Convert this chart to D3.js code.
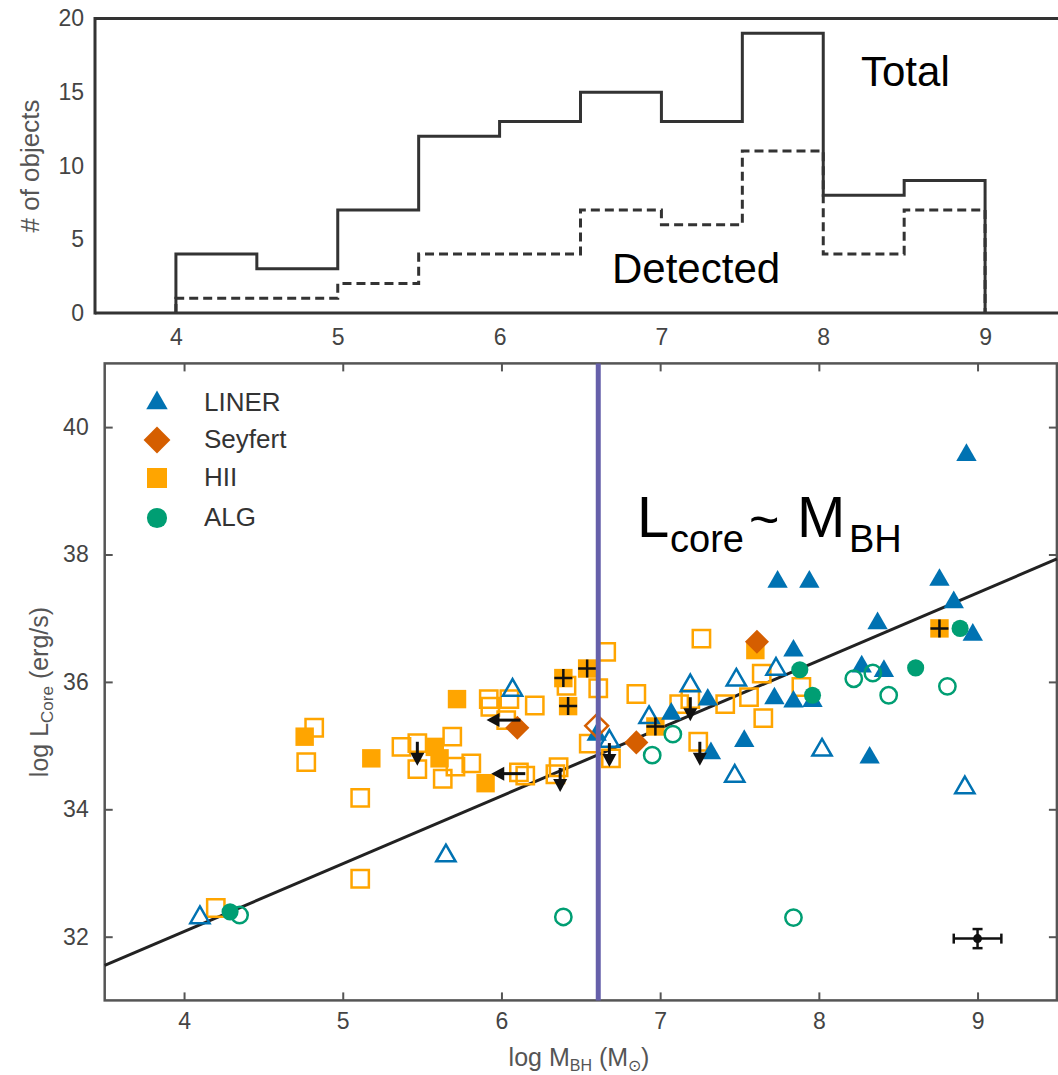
<!DOCTYPE html>
<html><head><meta charset="utf-8">
<script src="https://cdn.jsdelivr.net/npm/d3@7"></script>
<style>body{margin:0;background:#fff}svg{display:block}text{font-family:"Liberation Sans",Arial,sans-serif}</style>
</head><body><svg id="c" width="1058" height="1075"></svg>
<script>
// ---------- data ----------
const histEdges = [4,4.5,5,5.5,6,6.5,7,7.5,8,8.5,9];
const histTotal = [4,3,7,12,13,15,13,19,8,9];
const histDetected = [1,1,2,4,4,7,6,11,4,7];
const histYTicks = [0,5,10,15,20];
const massTicks = [4,5,6,7,8,9];
const lumTicks = [32,34,36,38,40];

const linerFilled = [[8.93,39.56],[7.74,37.57],[7.94,37.57],[8.76,37.60],[8.85,37.25],[8.37,36.92],[8.97,36.74],[8.27,36.24],[8.41,36.17],[7.84,36.49],[7.72,35.74],[7.84,35.69],[7.96,35.70],[7.30,35.72],[7.07,35.50],[7.32,34.88],[7.53,35.07],[8.32,34.81],[6.60,35.17]];
const linerOpen = [[6.07,35.87],[6.68,35.07],[6.93,35.44],[7.19,35.94],[7.48,36.03],[7.73,36.20],[7.47,34.52],[8.02,34.93],[8.92,34.34],[5.65,33.27],[4.10,32.30]];
const seyfertFilled = [[6.10,35.28],[6.85,35.05],[7.61,36.63]];
const seyfertOpen = [[6.60,35.31]];
const hiiFilled = [[4.76,35.14],[5.18,34.80],[5.72,35.73],[5.58,34.98],[5.61,34.80],[5.90,34.41],[7.60,36.50]];
const hiiCross = [[6.39,36.06],[6.54,36.21],[6.42,35.62],[6.97,35.30],[8.76,36.84]];
const hiiOpen = [[4.82,35.28],[4.77,34.74],[5.11,34.18],[5.11,32.91],[5.37,34.98],[5.47,35.04],[5.47,34.63],[5.69,35.14],[5.63,34.48],[5.71,34.67],[5.81,34.72],[5.92,35.73],[5.93,35.61],[6.05,35.73],[6.21,35.63],[6.03,35.40],[6.11,34.58],[6.15,34.53],[6.36,34.66],[6.34,34.55],[6.41,35.94],[6.66,36.47],[6.61,35.90],[6.85,35.81],[6.55,35.03],[6.69,34.80],[7.26,36.68],[7.64,36.13],[7.89,35.92],[7.56,35.76],[7.65,35.43],[7.41,35.65],[7.12,35.65],[7.19,35.73],[7.24,35.06],[4.20,32.45]];
const algFilled = [[4.29,32.39],[7.88,36.19],[7.96,35.79],[8.89,36.84],[8.61,36.22]];
const algOpen = [[4.35,32.34],[6.39,32.31],[7.84,32.30],[7.08,35.18],[6.95,34.85],[8.22,36.05],[8.34,36.14],[8.44,35.79],[8.81,35.93]];
const limitsDown = [[5.47,35.06],[6.37,34.65],[6.68,35.04],[7.19,35.76],[7.25,35.06]];
const limitsLeft = [[6.12,35.40],[6.15,34.56]];
const fitM = [3.5,9.5];
const fitL = [31.55,37.93];
const splitM = 6.61;
const errPoint = [9.0,31.97];
const errSize = [0.15,0.15];
const legendNames = ["LINER","Seyfert","HII","ALG"];

// ---------- styles ----------
const C = {liner:"#0072B2", sey:"#D55E00", hii:"#FFA500", alg:"#009E73"};
const svg = d3.select("#c");
const fmt = d3.format("d");

// ---------- histogram ----------
const hx = d3.scaleLinear().domain([3.5,9.5]).range([95,1066]);
const hy = d3.scaleLinear().domain([0,20]).range([313,18.5]);
function steps(vals){
  const p=[[histEdges[0],0]];
  vals.forEach((v,i)=>{p.push([histEdges[i],v]);p.push([histEdges[i+1],v]);});
  p.push([histEdges[histEdges.length-1],0]);
  return p;
}
const hline = d3.line().x(d=>hx(d[0])).y(d=>hy(d[1]));
const hg = svg.append("g");
hg.append("path").attr("d",hline(steps(histDetected))).attr("fill","none").attr("stroke","#333").attr("stroke-width",3).attr("stroke-dasharray","9,5");
hg.append("path").attr("d",hline(steps(histTotal))).attr("fill","none").attr("stroke","#333").attr("stroke-width",3);
// frame
hg.append("line").attr("x1",95).attr("x2",1058).attr("y1",hy(20)).attr("y2",hy(20)).attr("stroke","#333").attr("stroke-width",3);
hg.append("line").attr("x1",95).attr("x2",1058).attr("y1",hy(0)).attr("y2",hy(0)).attr("stroke","#333").attr("stroke-width",3);
hg.append("line").attr("x1",95).attr("x2",95).attr("y1",hy(20)-1.5).attr("y2",hy(0)+1.5).attr("stroke","#333").attr("stroke-width",3);
const tickText = g=>g.selectAll("text").attr("font-size",23).attr("fill","#444").attr("font-family","Liberation Sans, Arial, sans-serif");
hg.append("g").attr("transform","translate(95,0)")
  .call(d3.axisLeft(hy).tickValues(histYTicks).tickFormat(fmt).tickSize(0).tickPadding(11))
  .call(g=>{g.select(".domain").remove();tickText(g);});
hg.append("g").attr("transform","translate(0,313)")
  .call(d3.axisBottom(hx).tickValues(massTicks).tickFormat(fmt).tickSize(0).tickPadding(16))
  .call(g=>{g.select(".domain").remove();tickText(g);});
hg.append("text").attr("transform","translate(39,166) rotate(-90)").attr("text-anchor","middle")
  .attr("font-size",26).attr("fill","#555").text("# of objects");
hg.append("text").attr("x",861).attr("y",86).attr("font-size",42).attr("fill","#000").text("Total");
hg.append("text").attr("x",612).attr("y",283).attr("font-size",42).attr("fill","#000").text("Detected");

// ---------- scatter ----------
const sx = d3.scaleLinear().domain([3.5,9.5]).range([104.7,1056.9]);
const sy = d3.scaleLinear().domain([31,41]).range([1000.4,363.4]);
const sg = svg.append("g");
const axStyle = g=>{g.select(".domain").remove();g.selectAll("line").attr("stroke","#555").attr("stroke-width",2);tickText(g);};
sg.append("g").attr("transform",`translate(${sx(3.5)},0)`).call(d3.axisLeft(sy).tickValues(lumTicks).tickFormat(fmt).tickSize(-8).tickPadding(16)).call(axStyle);
sg.append("g").attr("transform",`translate(${sx(9.5)},0)`).call(d3.axisRight(sy).tickValues(lumTicks).tickSize(-8).tickFormat("")).call(axStyle);
sg.append("g").attr("transform",`translate(0,${sy(31)})`).call(d3.axisBottom(sx).tickValues(massTicks).tickFormat(fmt).tickSize(-8).tickPadding(12)).call(axStyle);
sg.append("g").attr("transform",`translate(0,${sy(41)})`).call(d3.axisTop(sx).tickValues(massTicks).tickSize(-8).tickFormat("")).call(axStyle);
sg.append("rect").attr("x",sx(3.5)).attr("y",sy(41)).attr("width",sx(9.5)-sx(3.5)).attr("height",sy(31)-sy(41))
  .attr("fill","none").attr("stroke","#555").attr("stroke-width",2.5);

// axis labels
const yl = sg.append("text").attr("transform","translate(48,692) rotate(-90)").attr("text-anchor","middle").attr("font-size",25).attr("fill","#555");
yl.append("tspan").text("log L");
yl.append("tspan").attr("font-size",17).attr("dy",5).text("Core");
yl.append("tspan").attr("dy",-5).text(" (erg/s)");
const xl = sg.append("text").attr("x",579).attr("y",1066).attr("text-anchor","middle").attr("font-size",25).attr("fill","#555");
xl.append("tspan").text("log M");
xl.append("tspan").attr("font-size",16).attr("dy",5).text("BH");
xl.append("tspan").attr("dy",-5).text(" (M");
xl.append("tspan").attr("font-size",16).attr("dy",5).text("\u2299");
xl.append("tspan").attr("dy",-5).text(")");

// fit line
sg.append("line").attr("x1",sx(fitM[0])).attr("y1",sy(fitL[0])).attr("x2",sx(fitM[1])).attr("y2",sy(fitL[1]))
  .attr("stroke","#222").attr("stroke-width",3);

const sym = (type,size)=>d3.symbol().type(type).size(size)();
function pts(data,type,size,color,open,rot){
  sg.append("g").selectAll("path").data(data).join("path")
    .attr("transform",d=>`translate(${sx(d[0])},${sy(d[1])})${rot?" rotate(45)":""}`)
    .attr("d",sym(type,size))
    .attr("fill",open?"none":color).attr("stroke",open?color:"none").attr("stroke-width",open?2.5:0);
}
pts(hiiOpen,d3.symbolSquare,300,C.hii,true);
pts(hiiFilled,d3.symbolSquare,340,C.hii,false);
pts(hiiCross,d3.symbolSquare,340,C.hii,false);
pts(linerOpen,d3.symbolTriangle,160,C.liner,true);
pts(linerFilled,d3.symbolTriangle,180,C.liner,false);
pts(algOpen,d3.symbolCircle,210,C.alg,true);
pts(algFilled,d3.symbolCircle,230,C.alg,false);
pts(seyfertOpen,d3.symbolSquare,260,C.sey,true,true);
pts(seyfertFilled,d3.symbolSquare,290,C.sey,false,true);
// crosses on detected HII
sg.append("g").selectAll("path").data(hiiCross).join("path")
  .attr("transform",d=>`translate(${sx(d[0])},${sy(d[1])})`)
  .attr("d","M-9,0H9M0,-9V9").attr("stroke","#111").attr("stroke-width",2.5);
// upper-limit arrows
const ag = sg.append("g").attr("fill","#111").attr("stroke","#111");
limitsDown.forEach(d=>{
  const x=sx(d[0]), y=sy(d[1]);
  ag.append("line").attr("x1",x).attr("x2",x).attr("y1",y).attr("y2",y+14).attr("stroke-width",3);
  ag.append("path").attr("d",`M${x-7},${y+11}L${x+7},${y+11}L${x},${y+24}Z`).attr("stroke","none");
});
limitsLeft.forEach(d=>{
  const x=sx(d[0]), y=sy(d[1]);
  ag.append("line").attr("x1",x).attr("x2",x-24).attr("y1",y).attr("y2",y).attr("stroke-width",3);
  ag.append("path").attr("d",`M${x-21},${y-7}L${x-21},${y+7}L${x-34},${y}Z`).attr("stroke","none");
});
// error bar sample
const ex=sx(errPoint[0]), ey=sy(errPoint[1]);
const eg = sg.append("g").attr("stroke","#111").attr("stroke-width",2.5);
eg.append("line").attr("x1",sx(errPoint[0]-errSize[0])).attr("x2",sx(errPoint[0]+errSize[0])).attr("y1",ey).attr("y2",ey);
eg.append("line").attr("y1",sy(errPoint[1]-errSize[1])).attr("y2",sy(errPoint[1]+errSize[1])).attr("x1",ex).attr("x2",ex);
[errPoint[0]-errSize[0],errPoint[0]+errSize[0]].forEach(m=>eg.append("line").attr("x1",sx(m)).attr("x2",sx(m)).attr("y1",ey-5).attr("y2",ey+5));
[errPoint[1]-errSize[1],errPoint[1]+errSize[1]].forEach(l=>eg.append("line").attr("y1",sy(l)).attr("y2",sy(l)).attr("x1",ex-5).attr("x2",ex+5));
sg.append("circle").attr("cx",ex).attr("cy",ey).attr("r",4.5).attr("fill","#111");

// legend
const lg = sg.append("g");
const legendSyms = [[d3.symbolTriangle,200,C.liner,false],[d3.symbolSquare,360,C.sey,true],[d3.symbolSquare,400,C.hii,false],[d3.symbolCircle,320,C.alg,false]];
const legendY = [403,440,478,518];
legendNames.forEach((n,i)=>{
  const s=legendSyms[i];
  lg.append("path").attr("transform",`translate(157,${legendY[i]})${s[3]?" rotate(45)":""}`).attr("d",sym(s[0],s[1])).attr("fill",s[2]);
  lg.append("text").attr("x",204).attr("y",legendY[i]+8).attr("font-size",26).attr("fill","#333").text(n);
});

// vertical split line
sg.append("line").attr("x1",sx(splitM)).attr("x2",sx(splitM)).attr("y1",sy(41)).attr("y2",sy(31))
  .attr("stroke","#6660AA").attr("stroke-width",5);

// annotation
const ann = sg.append("text").attr("y",537).attr("fill","#000");
ann.append("tspan").attr("x",637).attr("font-size",58).text("L");
ann.append("tspan").attr("x",670).attr("dy",15).attr("font-size",38).text("core");
ann.append("tspan").attr("x",749).attr("dy",-15).attr("font-size",52).text("~");
ann.append("tspan").attr("x",797).attr("font-size",58).text("M");
ann.append("tspan").attr("x",849).attr("dy",15).attr("font-size",38).text("BH");
</script></body></html>
